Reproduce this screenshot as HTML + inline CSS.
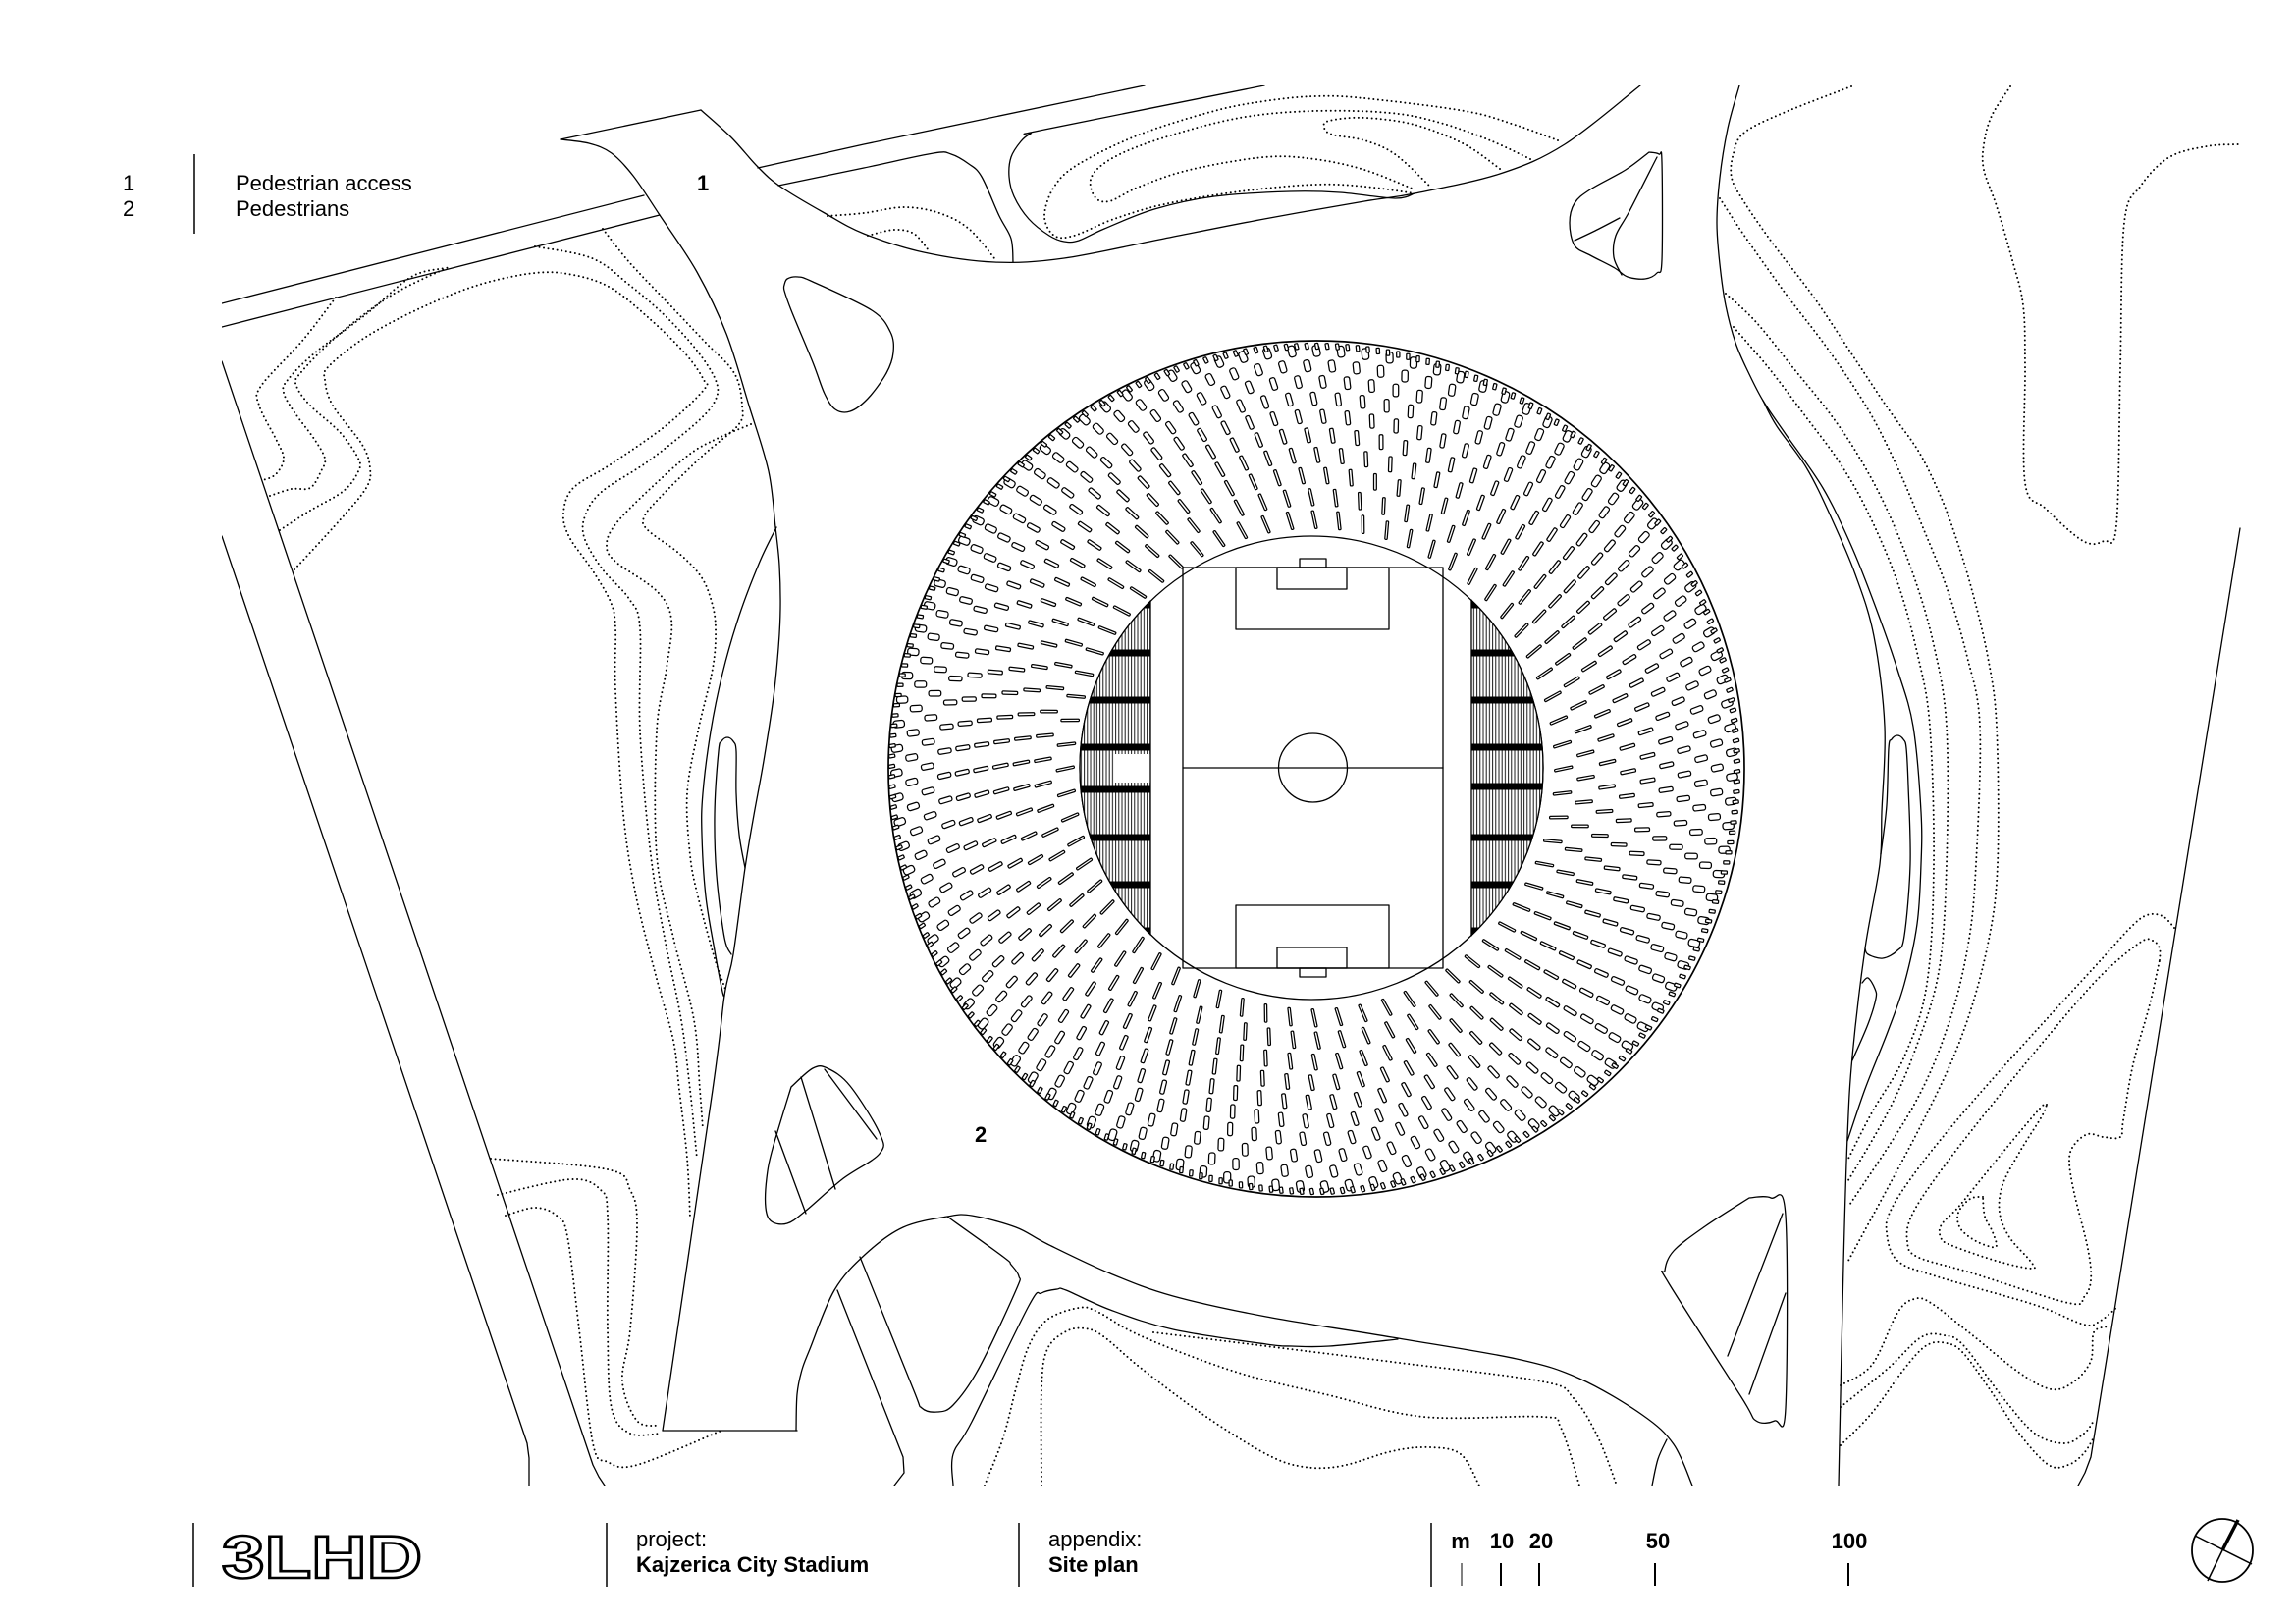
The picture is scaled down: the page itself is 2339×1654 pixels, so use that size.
<!DOCTYPE html>
<html>
<head>
<meta charset="utf-8">
<style>
html,body{margin:0;padding:0;background:#fff;}
body{width:2339px;height:1654px;overflow:hidden;}
svg{display:block;}
.s{fill:none;stroke:#000;stroke-width:1.3;stroke-linejoin:round;stroke-linecap:round}
.d{fill:none;stroke:#000;stroke-width:2;stroke-dasharray:0 4.6;stroke-linecap:round;stroke-linejoin:round}
.t{font-family:"Liberation Sans",Arial,sans-serif;fill:#000}
#marks rect{fill:#fff;stroke:#000;stroke-width:1.25}
</style>
</head>
<body>
<svg id="root" xmlns="http://www.w3.org/2000/svg" width="2339" height="1654" viewBox="0 0 2339 1654">
<defs>
  <clipPath id="area"><rect x="226" y="87" width="2060" height="1426"/></clipPath>
  <clipPath id="segL"><path d="M1172,612.3 A236,236 0 0 0 1172,951.7 Z"/></clipPath>
  <clipPath id="segR"><path d="M1499,611.3 A236,236 0 0 1 1499,952.7 Z"/></clipPath>
  <pattern id="vh" width="3.2" height="20" patternUnits="userSpaceOnUse">
    <rect width="3.2" height="20" fill="#fff"/>
    <line x1="0.6" y1="0" x2="0.6" y2="20" stroke="#000" stroke-width="0.9"/>
  </pattern>
</defs>
<rect width="2339" height="1654" fill="#fff"/>

<g clip-path="url(#area)">
  <polyline class="s" points="226,309 656,199"/>
  <polyline class="s" points="772,171 880,147 1166,87"/>
  <polyline class="s" points="226,333 672,219"/>
  <polyline class="s" points="226,368 604,1492 610,1504 616,1513"/>
  <polyline class="s" points="226,546 537,1470 539,1485 539,1513"/>
  <polyline class="s" points="571,142 714,112"/>
  <polyline class="s" points="675,1457 812,1457"/>
  <polyline class="s" points="2282,538 2130,1484 2124,1500 2117,1513"/>
  <polyline class="s" points="853,1314 920,1484 921,1500 911,1513"/>

  <polyline class="s sm" points="793,189 880,171 951,156 969,157 987,167 1000,180 1018,220 1030,243 1032,267"/>
  <polyline class="s sm" points="571,142 600,146 623,156 645,179 672,219 710,277 740,340 763,413 783,480 790,537 794,576 795,620 793,660 788,710 778,775 768,830 759,884 747,972 738,1014 726,1110 675,1457"/>
  <polyline class="s sm" points="791,537 774,572 753,627 736,686 724,745 716,808 715,850 719,913 728,968 736,1010 738,1014"/>
  <polyline class="s sm" points="759,884 753,850 750,808 750,765 747,755 741,751 735,755 732,765 728,829 730,892 738,955 745,972"/>
  <polyline class="s sm" points="714,112 745,140 772,170 795,190 840,217 880,238 941,257 1013,267 1084,263 1186,243 1288,223 1390,205 1441,197 1528,177 1594,147 1671,87"/>
  <polyline class="s sm" points="1288,87 1064,132 1050,136 1040,144 1030,160 1028,180 1033,200 1048,223 1069,240 1084,246 1099,245 1125,233 1176,213 1237,200 1314,195 1365,196 1421,202 1441,197"/>
  <polyline class="s sm" points="811,1457 812,1420 817,1395 825,1374 850,1314 882,1277 920,1250 965,1239 990,1238 1035,1250 1067,1267 1131,1297 1195,1320 1290,1341 1418,1362 1545,1384 1609,1404 1673,1441 1705,1471 1724,1513"/>
  <polyline class="s sm" points="799,290 802,284 813,282 828,287 888,316 907,338 910,359 903,380 884,406 866,419 851,417 840,401 828,369 806,316 799,296 799,290"/>
  <polyline class="s sm" points="1680,155 1690,157 1693,165 1693,265 1688,278 1676,284 1658,282 1645,273 1620,260 1604,250 1599,227 1604,207 1620,193 1656,173 1680,155"/>
  <polyline class="s sm" points="1688,160 1660,215 1646,240 1644,262 1652,280"/>
  <polyline class="s sm" points="1604,245 1625,235 1650,222"/>
  <polyline class="s sm" points="1772,87 1760,131 1752,181 1749,227 1752,269 1758,311 1768,349 1781,379 1796,408 1819,442 1857,497 1886,556 1911,619 1933,682 1949,740 1957,827 1957,880 1953,941 1940,1002 1923,1051 1900,1109 1882,1162"/>
  <polyline class="s sm" points="1796,408 1810,434 1840,476 1865,526 1890,585 1909,648 1920,740 1917,827 1915,880 1900,966 1887,1076 1882,1158 1878,1288 1873,1513"/>
  <polyline class="s sm" points="1916,870 1922,820 1924,762 1927,753 1933,749 1939,753 1942,762 1944,800 1946,880 1940,953 1933,968 1918,976 1903,972 1900,966"/>
  <polyline class="s sm" points="1897,1001 1903,996 1910,1007 1911,1017 1903,1043 1887,1080"/>
  <polyline class="s sm" points="806,1107 828,1088 843,1088 866,1106 896,1154 896,1175 858,1201 821,1233 802,1246 786,1244 780,1230 781,1200 787,1170 806,1107"/>
  <polyline class="s" points="816,1097 851,1211"/>
  <polyline class="s" points="790,1152 821,1236"/>
  <polyline class="s" points="840,1089 893,1160"/>
  <polyline class="s sm" points="876,1280 930,1414 939,1434 955,1438 971,1431 997,1394 1035,1314 1038,1300 1030,1288 1022,1280 965,1239"/>
  <polyline class="s sm" points="971,1513 971,1481 990,1448 1048,1330 1061,1317 1077,1313 1086,1314 1131,1334 1195,1354 1290,1369 1316,1371 1354,1371 1424,1364"/>
  <polyline class="s sm" points="1782,1220 1804,1220 1819,1238 1819,1434 1808,1447 1789,1447 1774,1423 1700,1307 1696,1294 1705,1274 1737,1249 1782,1220"/>
  <polyline class="s" points="1816,1236 1760,1381"/>
  <polyline class="s" points="1819,1317 1782,1420"/>
  <polyline class="s sm" points="1698,1466 1689,1486 1683,1513"/>

  <polyline class="d sm" points="342,303 308,347 266,393 264,413 281,447 289,467 281,483 268,489"/>
  <polyline class="d sm" points="275,505 297,498 316,497 327,480 331,467 320,447 300,420 289,400 293,387 320,360 373,320 419,282 453,273"/>
  <polyline class="d sm" points="285,540 316,520 350,500 365,480 365,467 346,440 316,413 302,393 306,380 346,340 400,300 457,272"/>
  <polyline class="d sm" points="300,580 346,530 373,497 377,477 369,453 339,413 331,387 335,373 373,343 430,313 488,290 545,278 584,280 622,293 660,323 698,360 717,387 717,397 679,433 622,473 584,497 574,523 580,547 603,580 622,613 627,640 627,703 635,829 648,913 669,997 686,1060 692,1110 700,1180 703,1240"/>
  <polyline class="d sm" points="545,251 603,263 641,290 679,323 710,357 729,387 729,407 710,430 660,470 614,500 597,523 595,547 614,580 641,610 652,640 652,745 663,871 677,955 694,1039 703,1110 710,1180"/>
  <polyline class="d sm" points="614,233 641,267 679,307 717,347 748,380 756,413 752,433 717,463 672,507 656,527 660,540 691,563 714,587 725,613 729,640 726,681 711,745 700,808 703,871 711,913 728,976 740,1010"/>
  <polyline class="d sm" points="765,432 730,447 702,463 660,500 627,534 618,555 627,572 669,602 684,631 679,681 669,745 669,871 686,955 707,1039 713,1110 716,1150"/>
  <polyline class="d sm" points="500,1180 619,1191 642,1212 649,1249 642,1354 634,1407 649,1447 672,1452"/>
  <polyline class="d sm" points="507,1217 582,1201 612,1212 619,1238 619,1354 623,1434 642,1460 672,1460"/>
  <polyline class="d sm" points="515,1238 545,1230 567,1238 578,1259 590,1354 604,1470 619,1489 649,1492 735,1457"/>

  <polyline class="d sm" points="843,220 880,217 921,211 957,217 987,233 1013,263"/>
  <polyline class="d sm" points="884,240 911,234 931,238 946,255"/>
  <polyline class="d sm" points="1587,143 1543,127 1492,113 1390,100 1339,98 1288,103 1237,113 1161,137 1099,167 1074,190 1064,220 1074,240 1094,240 1135,223 1186,208 1263,195 1339,188 1390,190 1441,197"/>
  <polyline class="d sm" points="1559,162 1518,143 1467,125 1416,115 1339,113 1263,120 1186,140 1135,160 1112,180 1115,200 1130,205 1161,190 1212,173 1288,160 1339,162 1390,173 1441,193"/>
  <polyline class="d sm" points="1528,172 1492,147 1441,127 1390,120 1354,123 1349,130 1357,137 1390,143 1421,157 1457,190"/>

  <polyline class="d sm" points="1886,88 1819,114 1777,135 1766,156 1764,181 1777,206 1806,248 1848,303 1890,366 1924,417 1954,459 1975,501 1991,543 2008,598 2025,669 2034,740 2035,880 2025,962 2000,1051 1960,1140 1883,1284"/>
  <polyline class="d sm" points="1752,202 1777,240 1819,299 1861,354 1903,417 1933,476 1958,535 1983,598 2004,669 2017,740 2013,880 2005,962 1985,1043 1950,1125 1883,1229"/>
  <polyline class="d sm" points="1758,299 1789,328 1827,375 1861,417 1890,459 1920,514 1949,585 1970,657 1983,740 1983,880 1975,990 1950,1072 1923,1133 1883,1202"/>
  <polyline class="d sm" points="1766,333 1802,375 1840,425 1874,471 1903,522 1933,593 1954,669 1966,740 1970,880 1963,1002 1940,1076 1907,1133 1882,1182"/>
  <polyline class="d sm" points="2048,88 2029,118 2021,147 2021,173 2034,210 2050,265 2061,311 2063,375 2063,492 2084,518 2122,551 2143,551 2156,535 2160,375 2164,227 2181,189 2210,160 2248,149 2280,147"/>
  <polyline class="d sm" points="2215,945 2203,933 2187,932 2170,945 2140,978 2073,1051 2007,1125 1957,1186 1927,1231 1922,1255 1933,1284 1973,1300 2073,1329 2123,1349 2140,1345 2157,1331"/>
  <polyline class="d sm" points="2200,978 2200,966 2193,958 2180,960 2140,994 2090,1051 2023,1133 1973,1198 1947,1239 1943,1264 1953,1280 2007,1296 2107,1327 2123,1321 2130,1304 2127,1272 2113,1215 2108,1182 2113,1166 2127,1155 2143,1158 2160,1158 2163,1141 2173,1084 2190,1023 2200,978"/>
  <polyline class="d sm" points="2085,1125 2078,1129 2040,1174 1997,1227 1978,1247 1977,1260 1987,1268 2033,1284 2070,1292 2068,1284 2047,1260 2037,1235 2040,1207 2057,1174 2080,1137 2085,1125"/>
  <polyline class="d sm" points="2020,1219 2007,1221 1995,1235 1997,1251 2013,1264 2033,1270 2030,1255 2022,1239 2020,1219"/>
  <polyline class="d sm" points="1875,1411 1907,1390 1933,1337 1950,1323 1967,1327 2007,1358 2057,1398 2090,1415 2113,1407 2130,1386 2133,1357 2147,1351"/>
  <polyline class="d sm" points="1875,1433 1923,1394 1957,1362 1980,1360 2000,1370 2040,1423 2073,1460 2103,1470 2123,1460 2133,1447"/>
  <polyline class="d sm" points="1875,1472 1907,1439 1940,1394 1963,1370 1983,1368 2000,1378 2027,1415 2057,1460 2087,1492 2107,1492 2123,1480 2133,1464"/>

  <polyline class="d sm" points="1003,1513 1022,1464 1035,1414 1048,1371 1067,1344 1099,1332 1118,1336 1163,1361 1258,1397 1354,1421 1450,1443 1571,1443 1590,1454 1609,1513"/>
  <polyline class="d sm" points="1061,1513 1061,1414 1067,1374 1086,1356 1105,1353 1124,1361 1163,1394 1226,1441 1290,1481 1328,1494 1367,1493 1418,1478 1456,1474 1488,1481 1507,1513"/>
  <polyline class="d sm" points="1175,1357 1290,1371 1418,1387 1571,1407 1603,1424 1628,1464 1647,1513"/>
</g>

<g id="stadium">
  <circle cx="1341" cy="783" r="436" fill="#fff" stroke="#000" stroke-width="1.7"/>
  <g id="marks"></g>
  <circle cx="1336" cy="782" r="236" fill="#fff" stroke="#000" stroke-width="1.3"/>
  <g clip-path="url(#segL)">
    <rect x="1090" y="600" width="85" height="360" fill="url(#vh)"/>
    <rect x="1090" y="612.5" width="85" height="7" fill="#000"/>
    <rect x="1090" y="661.5" width="85" height="7" fill="#000"/>
    <rect x="1090" y="709.5" width="85" height="7" fill="#000"/>
    <rect x="1090" y="757.5" width="85" height="7" fill="#000"/>
    <rect x="1090" y="800.5" width="85" height="7" fill="#000"/>
    <rect x="1090" y="849.5" width="85" height="7" fill="#000"/>
    <rect x="1090" y="897.5" width="85" height="7" fill="#000"/>
    <rect x="1090" y="944.5" width="85" height="7" fill="#000"/>
    <rect x="1136" y="768" width="36" height="29" fill="#fff"/>
  </g>
  <g clip-path="url(#segR)">
    <rect x="1497" y="600" width="85" height="360" fill="url(#vh)"/>
    <rect x="1497" y="612.5" width="85" height="7" fill="#000"/>
    <rect x="1497" y="661.5" width="85" height="7" fill="#000"/>
    <rect x="1497" y="709.5" width="85" height="7" fill="#000"/>
    <rect x="1497" y="757.5" width="85" height="7" fill="#000"/>
    <rect x="1497" y="797.5" width="85" height="7" fill="#000"/>
    <rect x="1497" y="849.5" width="85" height="7" fill="#000"/>
    <rect x="1497" y="897.5" width="85" height="7" fill="#000"/>
    <rect x="1497" y="944.5" width="85" height="7" fill="#000"/>
  </g>
  <line class="s" x1="1172" y1="612" x2="1172" y2="952"/>
  <line class="s" x1="1499" y1="611" x2="1499" y2="953"/>
  <path class="s" d="M1172,612.3 A236,236 0 0 0 1172,951.7"/>
  <path class="s" d="M1499,611.3 A236,236 0 0 1 1499,952.7"/>
  <rect class="s" x="1205" y="578" width="265" height="408" fill="#fff"/>
  <line class="s" x1="1205" y1="782" x2="1470" y2="782"/>
  <circle class="s" cx="1337.5" cy="782" r="35"/>
  <rect class="s" x="1259" y="578" width="156" height="63"/>
  <rect class="s" x="1301" y="578" width="71" height="22"/>
  <rect class="s" x="1324" y="569" width="27" height="9"/>
  <rect class="s" x="1259" y="922" width="156" height="64"/>
  <rect class="s" x="1301" y="965" width="71" height="21"/>
  <rect class="s" x="1324" y="986" width="27" height="9"/>
</g>

<text class="t" x="710" y="194" font-size="22" font-weight="bold">1</text>
<text class="t" x="993" y="1163" font-size="22" font-weight="bold">2</text>

<text class="t" x="125" y="194" font-size="22">1</text>
<text class="t" x="125" y="220" font-size="22">2</text>
<line x1="198" y1="157" x2="198" y2="238" stroke="#000" stroke-width="1.5"/>
<text class="t" x="240" y="194" font-size="22">Pedestrian access</text>
<text class="t" x="240" y="220" font-size="22">Pedestrians</text>

<line x1="197" y1="1551" x2="197" y2="1616" stroke="#000" stroke-width="1.5"/>
<text class="t" x="226" y="1607" font-size="61" font-weight="bold" textLength="204" lengthAdjust="spacingAndGlyphs" style="fill:#fff;stroke:#000;stroke-width:2.6;stroke-linejoin:miter">3LHD</text>
<line x1="618" y1="1551" x2="618" y2="1616" stroke="#000" stroke-width="1.5"/>
<text class="t" x="648" y="1575" font-size="22">project:</text>
<text class="t" x="648" y="1601" font-size="22" font-weight="bold">Kajzerica City Stadium</text>
<line x1="1038" y1="1551" x2="1038" y2="1616" stroke="#000" stroke-width="1.5"/>
<text class="t" x="1068" y="1575" font-size="22">appendix:</text>
<text class="t" x="1068" y="1601" font-size="22" font-weight="bold">Site plan</text>
<line x1="1458" y1="1551" x2="1458" y2="1616" stroke="#000" stroke-width="1.5"/>
<g class="t" font-size="22" font-weight="bold" text-anchor="middle">
  <text x="1488" y="1577">m</text>
  <text x="1530" y="1577">10</text>
  <text x="1570" y="1577">20</text>
  <text x="1689" y="1577">50</text>
  <text x="1884" y="1577">100</text>
</g>
<line x1="1489" y1="1592" x2="1489" y2="1615" stroke="#000" stroke-width="1"/>
<line x1="1529" y1="1592" x2="1529" y2="1615" stroke="#000" stroke-width="2"/>
<line x1="1568" y1="1592" x2="1568" y2="1615" stroke="#000" stroke-width="2"/>
<line x1="1686" y1="1592" x2="1686" y2="1615" stroke="#000" stroke-width="2"/>
<line x1="1883" y1="1592" x2="1883" y2="1615" stroke="#000" stroke-width="2"/>

<ellipse cx="2264" cy="1579" rx="31" ry="32" fill="none" stroke="#000" stroke-width="1.8"/>
<line x1="2280" y1="1548" x2="2264" y2="1579" stroke="#000" stroke-width="3.5"/>
<line x1="2264" y1="1579" x2="2249" y2="1610" stroke="#000" stroke-width="1.5"/>
<line x1="2236" y1="1564" x2="2294" y2="1593" stroke="#000" stroke-width="1.5"/>
</svg>

<script>
(function(){
  var pls = document.querySelectorAll('polyline.sm');
  for (var n=0;n<pls.length;n++){
    var pl = pls[n];
    var raw = pl.getAttribute('points').trim().split(/\s+/);
    var p = [];
    for (var i=0;i<raw.length;i++){ var a=raw[i].split(','); p.push([+a[0],+a[1]]); }
    if (p.length<3) continue;
    var d='M'+p[0][0]+','+p[0][1];
    for (var i=0;i<p.length-1;i++){
      var p0=p[i-1]||p[i], p1=p[i], p2=p[i+1], p3=p[i+2]||p[i+1];
      var c1x=p1[0]+(p2[0]-p0[0])/6, c1y=p1[1]+(p2[1]-p0[1])/6;
      var c2x=p2[0]-(p3[0]-p1[0])/6, c2y=p2[1]-(p3[1]-p1[1])/6;
      d+=' C'+c1x.toFixed(1)+','+c1y.toFixed(1)+' '+c2x.toFixed(1)+','+c2y.toFixed(1)+' '+p2[0]+','+p2[1];
    }
    var path=document.createElementNS('http://www.w3.org/2000/svg','path');
    path.setAttribute('d',d);
    path.setAttribute('class',pl.getAttribute('class'));
    pl.parentNode.replaceChild(path,pl);
  }
  var g=document.getElementById('marks');
  var cx=1339, cy=783, rin=242, rout=433;
  var rows=10, html='';
  for (var k=0;k<rows;k++){
    var u=(k+0.5)/rows;
    var f=u*(1.25-0.25*u);
    var r=rin+(rout-rin)*f;
    var L=19-8*f, W=2.4+5*f*f;
    var N=Math.round(2*Math.PI*r/25);
    var off=k*0.37;
    for (var i=0;i<N;i++){
      var phi=(i+off)/N*2*Math.PI;
      var x=cx+r*Math.cos(phi), y=cy+r*Math.sin(phi);
      var ang=phi*180/Math.PI-12;
      html+='<rect x="'+(-L/2).toFixed(1)+'" y="'+(-W/2).toFixed(1)+'" width="'+L.toFixed(1)+'" height="'+W.toFixed(1)+'" rx="'+(W/2.6).toFixed(1)+'" transform="translate('+x.toFixed(1)+','+y.toFixed(1)+') rotate('+ang.toFixed(1)+')"/>';
    }
  }
  var r2=430.5, N2=260;
  for (var i=0;i<N2;i++){
    var phi=(i+0.25)/N2*2*Math.PI;
    var x=cx+r2*Math.cos(phi), y=cy+r2*Math.sin(phi);
    var ang=phi*180/Math.PI-12;
    html+='<rect x="-3" y="-1.6" width="6" height="3.2" rx="0.8" transform="translate('+x.toFixed(1)+','+y.toFixed(1)+') rotate('+ang.toFixed(1)+')"/>';
  }
  g.innerHTML=html;
})();
</script>
</body>
</html>
